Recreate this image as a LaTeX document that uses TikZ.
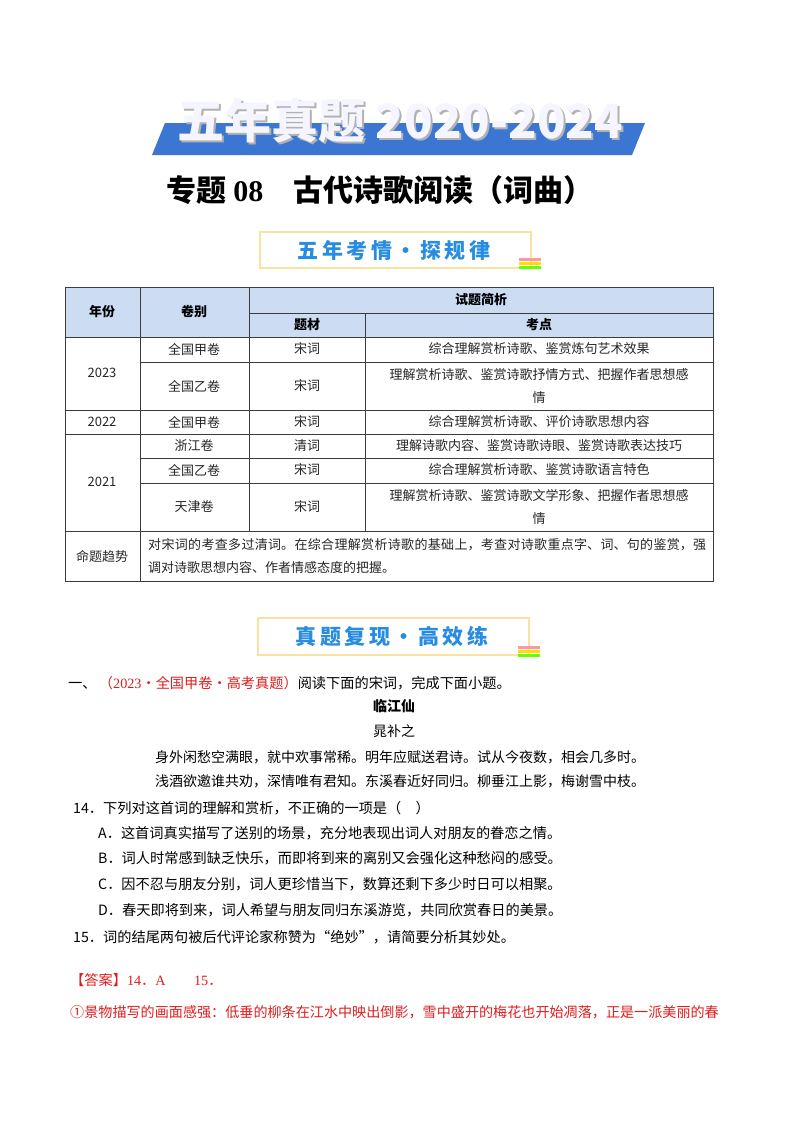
\documentclass[tikz,border=0pt]{standalone}
\usepackage{fontspec}
\setmainfont{Noto Sans CJK SC}
\newfontfamily\cjk{Noto Sans CJK SC}
\newfontfamily\latinf{Liberation Serif}
\XeTeXlinebreaklocale "zh"
\XeTeXlinebreakskip=0pt plus 1pt
\definecolor{bannerblue}{RGB}{58,118,210}
\definecolor{hdrblue}{RGB}{204,221,243}
\definecolor{tblue}{RGB}{40,140,225}
\definecolor{boxline}{RGB}{250,225,160}
\definecolor{redtxt}{RGB}{222,30,30}
\definecolor{gridc}{RGB}{60,60,60}
\begin{document}
\begin{tikzpicture}[x=1pt,y=-1pt,
  cell/.style={font=\fontsize{13}{23}\selectfont,color=black!85,align=center},
  hcell/.style={font=\bfseries\fontsize{13}{15}\selectfont,align=center},
  body/.style={anchor=west,font=\fontsize{14.2}{17}\selectfont,inner sep=0pt},
  secbox/.style={draw=boxline,line width=1.2pt,fill=white},
  sectxt/.style={font=\bfseries\fontsize{21}{24}\selectfont,color=tblue}]
\useasboundingbox (0,0) rectangle (800,1132);
\fill[white] (0,0) rectangle (800,1132);
% top banner
\fill[bannerblue] (165,123) -- (645,123) -- (632,155) -- (152,155) -- cycle;
\node[font=\bfseries\fontsize{47}{50}\selectfont,color=gray!60] at (402,123) {五年真题 2020-2024};
\node (banner) [font=\bfseries\fontsize{47}{50}\selectfont,color=white!96!blue] at (400,121) {五年真题 2020-2024};
\node (subtitle) [font=\bfseries\fontsize{30}{34}\selectfont] at (380,190) {专题 {\latinf\bfseries 08}\quad 古代诗歌阅读（词曲）};
% section box 1
\draw[secbox] (260,232) rectangle (531,268);
\node (sec1) [sectxt] at (394,250) {五\,年\,考\,情\,·\,探\,规\,律};
\foreach \yy/\cc in {0/green!60!yellow,-4/yellow!80!orange,-8/pink!80!red} {\fill[\cc] (519,266+\yy) rectangle (541,269+\yy);}
% table
\fill[hdrblue] (65,287) rectangle (713,337);
\draw[gridc,line width=0.6pt] (65,287) rectangle (713,581);
\foreach \yy in {337,410,434,531} \draw[gridc,line width=0.6pt] (65,\yy) -- (713,\yy);
\foreach \yy in {362,458,483} \draw[gridc,line width=0.6pt] (140,\yy) -- (713,\yy);
\draw[gridc,line width=0.6pt] (249,313) -- (713,313);
\draw[gridc,line width=0.6pt] (140,287) -- (140,581);
\draw[gridc,line width=0.6pt] (249,287) -- (249,531);
\draw[gridc,line width=0.6pt] (365,313) -- (365,531);
\node (h1) [hcell] at (102,312) {年份};
\node (h2) [hcell] at (194,312) {卷别};
\node (h3) [hcell] at (481,300) {试题简析};
\node (h4) [hcell] at (307,325) {题材};
\node (h5) [hcell] at (539,325) {考点};
\node (y23) [cell] at (102,373) {2023};
\node (y22) [cell] at (102,422) {2022};
\node (y21) [cell] at (102,482) {2021};
\node [cell] at (194,349) {全国甲卷};
\node [cell] at (194,386) {全国乙卷};
\node [cell] at (194,422) {全国甲卷};
\node [cell] at (194,446) {浙江卷};
\node [cell] at (194,470) {全国乙卷};
\node [cell] at (194,507) {天津卷};
\node [cell] at (307,349) {宋词};
\node [cell] at (307,386) {宋词};
\node [cell] at (307,422) {宋词};
\node [cell] at (307,446) {清词};
\node [cell] at (307,470) {宋词};
\node [cell] at (307,507) {宋词};
\node [cell] at (539,349) {综合理解赏析诗歌、鉴赏炼句艺术效果};
\node [cell] at (539,386) {理解赏析诗歌、鉴赏诗歌抒情方式、把握作者思想感\\情};
\node [cell] at (539,422) {综合理解赏析诗歌、评价诗歌思想内容};
\node [cell] at (539,446) {理解诗歌内容、鉴赏诗歌诗眼、鉴赏诗歌表达技巧};
\node [cell] at (539,470) {综合理解赏析诗歌、鉴赏诗歌语言特色};
\node [cell] at (539,507) {理解赏析诗歌、鉴赏诗歌文学形象、把握作者思想感\\情};
\node [cell] at (102,556) {命题趋势};
\node [cell,align=justify,anchor=west,text width=558pt,inner sep=0pt] at (148,556) {对宋词的考查多过清词。在综合理解赏析诗歌的基础上，考查对诗歌重点字、词、句的鉴赏，强调对诗歌思想内容、作者情感态度的把握。};
% section box 2
\draw[secbox] (258,618) rectangle (529,655);
\node (sec2) [sectxt] at (392,636) {真\,题\,复\,现\,·\,高\,效\,练};
\foreach \yy/\cc in {0/green!60!yellow,-4/yellow!80!orange,-8/pink!80!red} {\fill[\cc] (518,654+\yy) rectangle (540,657+\yy);}
% question text
\node (q0) [body] at (68,683) {一、\,{\color{redtxt}（{\latinf 2023}·全国甲卷·高考真题）}阅读下面的宋词，完成下面小题。};
\node (ptitle) [font=\bfseries\fontsize{14}{17}\selectfont] at (394,706) {临江仙};
\node (pauth) [font=\fontsize{14}{17}\selectfont] at (394,731) {晁补之};
\node (p1) [body,font=\fontsize{14}{17}\selectfont] at (155,757) {身外闲愁空满眼，就中欢事常稀。明年应赋送君诗。试从今夜数，相会几多时。};
\node (p2) [body,font=\fontsize{14}{17}\selectfont] at (155,781) {浅酒欲邀谁共劝，深情唯有君知。东溪春近好同归。柳垂江上影，梅谢雪中枝。};
\node (q14) [body] at (73,808) {14．下列对这首词的理解和赏析，不正确的一项是（\quad）};
\node (qa) [body] at (98,833) {A．这首词真实描写了送别的场景，充分地表现出词人对朋友的眷恋之情。};
\node (qb) [body] at (98,858) {B．词人时常感到缺乏快乐，而即将到来的离别又会强化这种愁闷的感受。};
\node (qc) [body] at (98,884) {C．因不忍与朋友分别，词人更珍惜当下，数算还剩下多少时日可以相聚。};
\node (qd) [body] at (98,910) {D．春天即将到来，词人希望与朋友同归东溪游览，共同欣赏春日的美景。};
\node (q15) [body] at (73,937) {15．词的结尾两句被后代评论家称赞为“绝妙”，请简要分析其妙处。};
\node (ans) [body,color=redtxt] at (70,980) {【答案】{\latinf 14}．{\latinf A}\qquad {\latinf 15}．};
\node (ans1) [body,color=redtxt,font=\fontsize{14.1}{17}\selectfont] at (70,1012) {①景物描写的画面感强：低垂的柳条在江水中映出倒影，雪中盛开的梅花也开始凋落，正是一派美丽的春};
\end{tikzpicture}
\end{document}
